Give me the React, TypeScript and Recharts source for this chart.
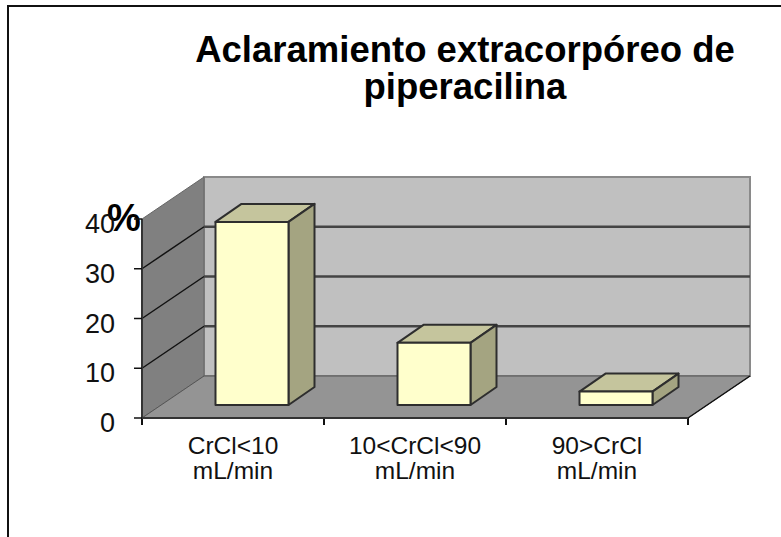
import React from "react";
import { BarChart, Bar, XAxis, YAxis, usePlotArea } from "recharts";

const categories = ["CrCl<10|mL/min", "10<CrCl<90|mL/min", "90>CrCl|mL/min"];
const clearance = [36.8, 12.5, 2.7];
const yTicks = [0, 10, 20, 30, 40];
const titleLines = ["Aclaramiento extracorpóreo de", "piperacilina"];
const unitLabel = "%";

const rows = categories.map((name, i) => ({ name, clearance: clearance[i] }));

const FONT = "'Liberation Sans', Arial, sans-serif";
const W = 781;
const H = 537;
const DEPTH_X = 62;
const DEPTH_Y = 42;
const LINE = "#2e2e2e";

function Room() {
  const p = usePlotArea();
  if (!p) return null;
  const { x, y, width, height } = p;
  const bottom = y + height;
  const right = x + width;
  const yOf = (v: number) => bottom - (v / 40) * height;
  return (
    <g>
      <polygon
        points={`${x + DEPTH_X},${y - DEPTH_Y} ${right + DEPTH_X},${y - DEPTH_Y} ${right + DEPTH_X},${bottom - DEPTH_Y} ${x + DEPTH_X},${bottom - DEPTH_Y}`}
        fill="#c0c0c0"
        stroke="#8a8a8a"
        strokeWidth={2}
      />
      <polygon
        points={`${x},${y} ${x + DEPTH_X},${y - DEPTH_Y} ${x + DEPTH_X},${bottom - DEPTH_Y} ${x},${bottom}`}
        fill="#808080"
        stroke="#666"
        strokeWidth={1}
      />
      <polygon
        points={`${x},${bottom} ${x + DEPTH_X},${bottom - DEPTH_Y} ${right + DEPTH_X},${bottom - DEPTH_Y} ${right},${bottom}`}
        fill="#949494"
        stroke="#555"
        strokeWidth={1}
      />
      {yTicks
        .filter((v) => v > 0 && v < 40)
        .map((v) => (
          <g key={v}>
            <line x1={x} y1={yOf(v)} x2={x + DEPTH_X} y2={yOf(v) - DEPTH_Y} stroke="#111" strokeWidth={1.5} />
            <line x1={x + DEPTH_X} y1={yOf(v) - DEPTH_Y} x2={right + DEPTH_X} y2={yOf(v) - DEPTH_Y} stroke="#444" strokeWidth={2.5} />
          </g>
        ))}
      <line x1={right} y1={bottom} x2={right + DEPTH_X} y2={bottom - DEPTH_Y} stroke="#111" strokeWidth={1.5} />
      {categories.map((_, i) => i).concat(categories.length).map((i) => {
        const tx = x + (i / categories.length) * width;
        return <line key={i} x1={tx} y1={bottom} x2={tx} y2={bottom + 7} stroke="#111" strokeWidth={2} />;
      })}
    </g>
  );
}

function Box(props: any) {
  const { x, y, width, height } = props;
  const dx = 26;
  const dy = 18;
  const sx = x + 18.5;
  const sy = y - 13;
  const b = sy + height;
  const r = sx + width;
  return (
    <g stroke={LINE} strokeWidth={2} strokeLinejoin="round">
      <polygon points={`${sx},${sy} ${sx + dx},${sy - dy} ${r + dx},${sy - dy} ${r},${sy}`} fill="#c5c59d" />
      <polygon points={`${r},${sy} ${r + dx},${sy - dy} ${r + dx},${b - dy} ${r},${b}`} fill="#a4a481" />
      <rect x={sx} y={sy} width={width} height={height} fill="#ffffcc" />
    </g>
  );
}

function CategoryTick(props: any) {
  const { x, payload } = props;
  const parts = String(payload.value).split("|");
  return (
    <text x={x} textAnchor="middle" fontFamily={FONT} fontSize={24.5} fill="#111">
      {parts.map((t: string, i: number) => (
        <tspan key={i} x={x} y={454 + i * 25}>
          {t}
        </tspan>
      ))}
    </text>
  );
}

function ValueTick(props: any) {
  const { x, y, payload } = props;
  return (
    <text x={115} y={y + 14} textAnchor="end" fontFamily={FONT} fontSize={27} fill="#111">
      {payload.value}
    </text>
  );
}

export default function App() {
  return (
    <div style={{ position: "absolute", left: 0, top: 0, width: W, height: H, background: "#fff", overflow: "hidden" }}>
      <div style={{ position: "absolute", left: 7, top: 5, width: W, height: H, borderTop: "2px solid #111", borderLeft: "2px solid #111" }} />
      <div style={{ position: "absolute", left: 0, top: 0 }}>
        <BarChart
          width={W}
          height={H}
          data={rows}
          margin={{ top: 219, right: W - 688, bottom: 0, left: 0 }}
          barCategoryGap={0}
        >
          <Room />
          <XAxis
            dataKey="name"
            interval={0}
            height={H - 418}
            tickLine={false}
            axisLine={{ stroke: "#333", strokeWidth: 2 }}
            tick={<CategoryTick />}
          />
          <YAxis
            domain={[0, 40]}
            ticks={yTicks}
            width={142}
            tickLine={{ stroke: "#111", strokeWidth: 1.5 }}
            tickSize={8}
            axisLine={{ stroke: "#333", strokeWidth: 2 }}
            tick={<ValueTick />}
          />
          <Bar dataKey="clearance" barSize={73} shape={<Box />} isAnimationActive={false} />
          <text fontFamily={FONT} fontSize={36.5} fontWeight={700} textAnchor="middle" fill="#000">
            {titleLines.map((t, i) => (
              <tspan key={t} x={465} y={62 + i * 37}>
                {t}
              </tspan>
            ))}
          </text>
          <text x={124} y={231} fontFamily={FONT} fontSize={38} fontWeight={700} textAnchor="middle" fill="#000">
            {unitLabel}
          </text>
        </BarChart>
      </div>
    </div>
  );
}
